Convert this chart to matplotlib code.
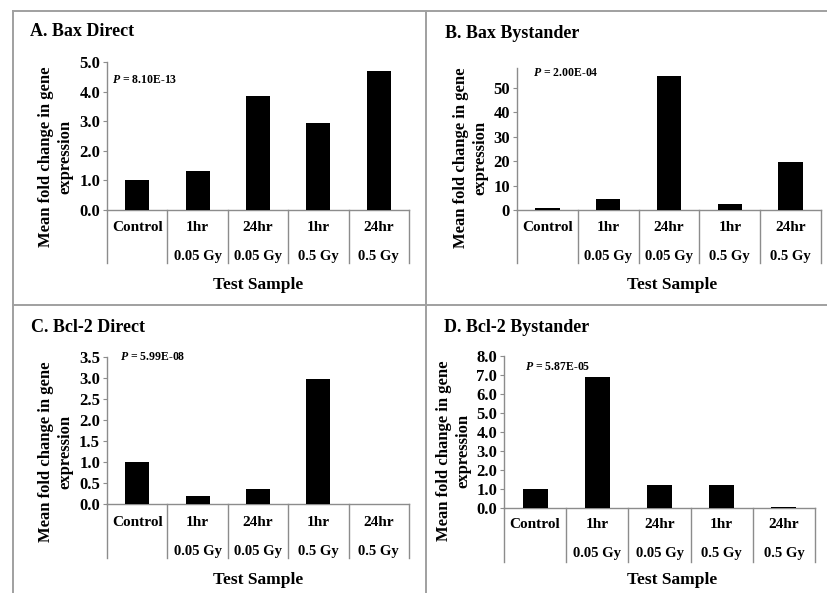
import numpy as np
import matplotlib
matplotlib.use('Agg')
import matplotlib.pyplot as plt
from matplotlib.transforms import blended_transform_factory
from matplotlib.ticker import FormatStrFormatter

plt.rcParams['font.family'] = 'Liberation Serif'
plt.rcParams['font.weight'] = 'bold'
plt.rcParams['mathtext.fontset'] = 'custom'
plt.rcParams['mathtext.it'] = 'Liberation Serif:italic:bold'
plt.rcParams['mathtext.rm'] = 'Liberation Serif:bold'

# data
row1_labels = ["Control", "1hr", "24hr", "1hr", "24hr"]
row2_labels = ["", "0.05 Gy", "0.05 Gy", "0.5 Gy", "0.5 Gy"]

bax_direct = [1.0, 1.32, 3.85, 2.93, 4.68]
bax_bystander = [1.0, 4.3, 54.8, 2.6, 19.6]
bcl2_direct = [1.0, 0.2, 0.36, 2.98, 0.01]
bcl2_bystander = [1.0, 6.87, 1.23, 1.2, 0.03]

titles = ["A. Bax Direct", "B. Bax Bystander", "C. Bcl-2 Direct", "D. Bcl-2 Bystander"]
p_values = ["8.10E-13", "2.00E-04", "5.99E-08", "5.87E-05"]

W, H = 827, 593
fig = plt.figure(figsize=(W / 100, H / 100), dpi=100)
fig.patch.set_facecolor('white')

GRID = '#a0a0a0'
AXC = '#8c8c8c'


def fx(px):
    return px / W


def fy(py):
    return 1 - py / H


# panel frame
for xs, ys in [((13, 13), (11, H)), ((13, W), (11, 11)),
               ((426, 426), (11, H)), ((13, W), (305, 305))]:
    fig.add_artist(plt.Line2D([fx(x) for x in xs], [fy(y) for y in ys],
                              color=GRID, lw=1.4))

# per-panel layout in pixels
panels = [
    dict(vals=bax_direct, box=(107, 409, 62, 210), ylim=5.0, ticks=np.arange(0, 5.01, 1.0), fmt='%.1f',
         title=(30, 32), p=(112, 80), ylab=(56, 157), rows=(228, 257, 263), xlab=(258, 285)),
    dict(vals=bax_bystander, box=(517, 821, 68, 210), ylim=58, ticks=np.arange(0, 51, 10), fmt='%d',
         title=(445, 33), p=(533, 73), ylab=(471, 158), rows=(228, 257, 263), xlab=(672, 285)),
    dict(vals=bcl2_direct, box=(107, 409, 357, 504), ylim=3.5, ticks=np.arange(0, 3.51, 0.5), fmt='%.1f',
         title=(31, 327), p=(120, 357), ylab=(56, 452), rows=(523, 552, 558), xlab=(258, 580)),
    dict(vals=bcl2_bystander, box=(504, 815, 356, 508), ylim=8.0, ticks=np.arange(0, 8.01, 1.0), fmt='%.1f',
         title=(444, 328), p=(525, 367), ylab=(454, 451), rows=(525, 553, 562), xlab=(672, 580)),
]

for i, pn in enumerate(panels):
    x0, x1, ytop, ybot = pn['box']
    ax = fig.add_axes([fx(x0), fy(ybot), (x1 - x0) / W, (ybot - ytop) / H])
    x = np.arange(5) + 0.5
    ax.bar(x, pn['vals'], width=0.4, color='black', zorder=3)
    ax.set_xlim(0, 5)
    ax.set_ylim(0, pn['ylim'])
    ax.set_yticks(pn['ticks'])
    ax.yaxis.set_major_formatter(FormatStrFormatter(pn['fmt']))
    ax.set_xticks([])
    for s in ['top', 'right']:
        ax.spines[s].set_visible(False)
    for s in ['left', 'bottom']:
        ax.spines[s].set_color(AXC)
        ax.spines[s].set_linewidth(1.0)
    ax.tick_params(axis='y', direction='out', length=3, color=AXC, labelsize=12, pad=2)
    for lab in ax.get_yticklabels():
        lab.set_fontweight('bold')
    ax.patch.set_alpha(0)

    # category table below the axis
    tr = blended_transform_factory(ax.transData, fig.transFigure)
    r1, r2, rb = pn['rows']
    for b in range(6):
        ax.plot([b, b], [fy(ybot), fy(rb)], transform=tr, color=AXC, lw=1.0, clip_on=False)
    for k in range(5):
        ax.text(k + 0.5, fy(r1), row1_labels[k], transform=tr, ha='center', va='center',
                fontsize=11, fontweight='bold')
        ax.text(k + 0.5, fy(r2), row2_labels[k], transform=tr, ha='center', va='center',
                fontsize=10.5, fontweight='bold')

    tx, ty = pn['title']
    fig.text(fx(tx), fy(ty), titles[i], ha='left', va='center', fontsize=13, fontweight='bold')
    px, py = pn['p']
    fig.text(fx(px), fy(py), r'$\mathit{P}$ = ' + p_values[i], ha='left', va='center',
             fontsize=8.5, fontweight='bold')
    lx, ly = pn['ylab']
    fig.text(fx(lx), fy(ly), "Mean fold change in gene\nexpression", rotation=90,
             ha='center', va='center', fontsize=12, fontweight='bold', linespacing=1.3)
    sx, sy = pn['xlab']
    fig.text(fx(sx), fy(sy), "Test Sample", ha='center', va='center', fontsize=12.5, fontweight='bold')

fig.savefig('out.png', dpi=100, facecolor='white')
